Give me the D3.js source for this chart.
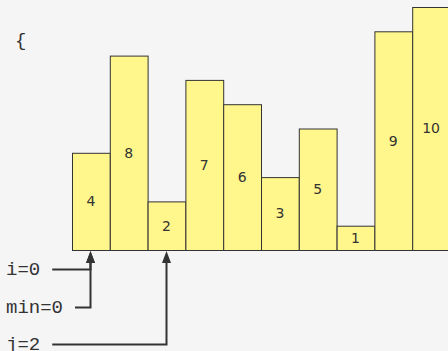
<!DOCTYPE html>
<html>
<head>
<meta charset="utf-8">
<script src="https://cdn.jsdelivr.net/npm/d3@7"></script>
<style>
  body { margin: 0; background: #f5f5f5; }
  svg { display: block; }
</style>
</head>
<body>
<div id="chart"></div>
<script>
// array being sorted
var values = [4, 8, 2, 7, 6, 3, 5, 1, 9, 10];

// pointer labels and the index each one points at
var pointerNames = ["i", "min", "j"];
var pointerValues = [0, 0, 2];

var width = 448,
    height = 351;

var svg = d3.select("#chart")
  .append("svg")
    .attr("width", width)
    .attr("height", height);

svg.append("rect")
  .attr("width", width)
  .attr("height", height)
  .attr("fill", "#f5f5f5");

var x = d3.scaleBand()
  .domain(d3.range(values.length))
  .range([72, 450])
  .padding(0);

var y = d3.scaleLinear()
  .domain([0, 10])
  .range([250, 7]);

// the opening brace
svg.append("text")
  .attr("x", 15)
  .attr("y", 46)
  .style("font-family", "Liberation Mono, monospace")
  .style("font-size", "19px")
  .attr("fill", "#333")
  .text("{");

// bars
svg.selectAll("rect.bar")
  .data(values)
  .enter()
  .append("rect")
    .attr("class", "bar")
    .attr("x", function(d, i) { return x(i) + 0.5; })
    .attr("y", function(d) { return y(d) + 0.5; })
    .attr("width", x.bandwidth())
    .attr("height", function(d) { return y(0) - y(d); })
    .attr("fill", "#fff68c")
    .attr("stroke", "#333")
    .attr("stroke-width", 1);

// value labels in the middle of each bar
svg.selectAll("text.val")
  .data(values)
  .enter()
  .append("text")
    .attr("class", "val")
    .attr("x", function(d, i) { return x(i) + x.bandwidth() / 2; })
    .attr("y", function(d) { return (y(d) + y(0)) / 2; })
    .attr("dy", "0.35em")
    .attr("text-anchor", "middle")
    .style("font-family", "DejaVu Sans, sans-serif")
    .style("font-size", "14px")
    .attr("fill", "#333")
    .text(function(d) { return d; });

var labelY = [269, 307, 344];

var pointers = svg.selectAll("g.pointer")
  .data(pointerNames)
  .enter()
  .append("g")
    .attr("class", "pointer");

pointers.append("text")
  .attr("x", 6)
  .attr("y", function(d, i) { return labelY[i]; })
  .attr("dy", "0.33em")
  .style("font-family", "Liberation Mono, monospace")
  .style("font-size", "19px")
  .attr("fill", "#333")
  .text(function(d, i) { return d + "=" + pointerValues[i]; })
  .each(function(d, i) {
    var bb = this.getBBox();
    var cx = Math.round(x(pointerValues[i]) + x.bandwidth() / 2) - 0.5;
    var ly = labelY[i] + 0.5;
    var g = d3.select(this.parentNode);
    g.append("path")
      .attr("d", "M" + (bb.x + bb.width + 12) + "," + ly + " H" + cx + " V260")
      .attr("fill", "none")
      .attr("stroke", "#333")
      .attr("stroke-width", 2);
    // arrow head pointing up at the bar
    g.append("path")
      .attr("d", "M" + cx + ",251 L" + (cx + 4.5) + ",263 L" + (cx - 4.5) + ",263 Z")
      .attr("fill", "#333");
  });
</script>
</body>
</html>
